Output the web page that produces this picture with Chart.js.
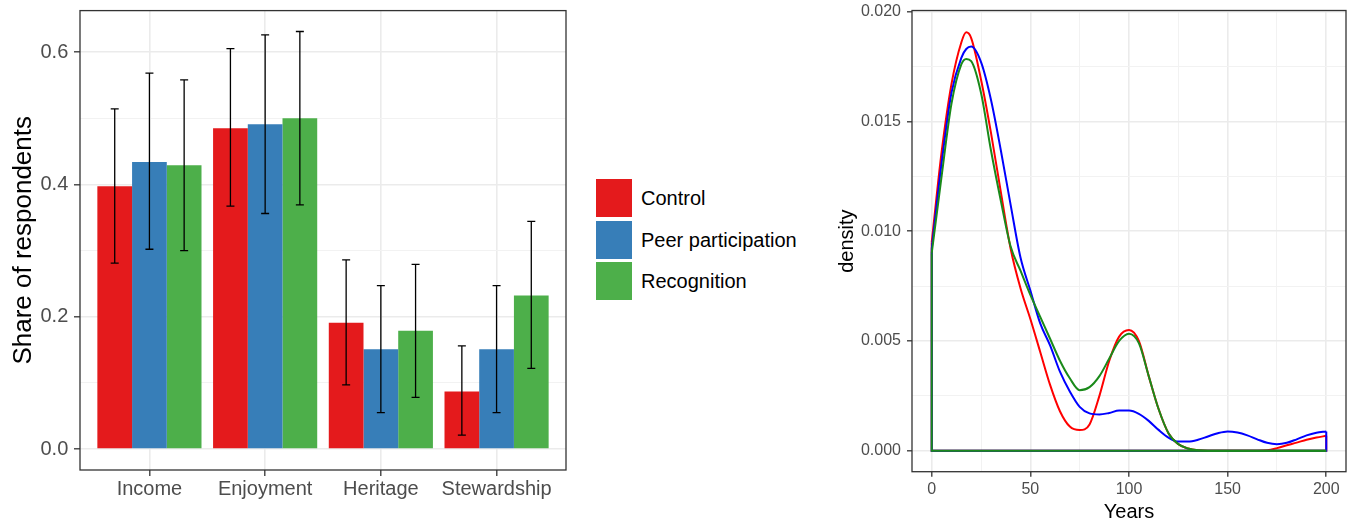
<!DOCTYPE html>
<html>
<head>
<meta charset="utf-8">
<script src="https://cdn.jsdelivr.net/npm/chart.js@4.4.1/dist/chart.umd.min.js"></script>
<style>
  body { margin:0; width:1354px; height:522px; background:#fff; position:relative; overflow:hidden; }
  canvas { position:absolute; top:0; }
  #legend { position:absolute; left:596px; top:0; font-family:'Liberation Sans', Arial, sans-serif; font-size:20px; color:#000; }
  .row { position:absolute; left:0; height:38px; line-height:38px; white-space:nowrap; }
  .key { position:absolute; left:0; top:0; width:36px; height:38px; }
  .lab { position:absolute; left:45px; top:0; }
</style>
</head>
<body>
<canvas id="bars" width="580" height="522" style="left:0"></canvas>
<div id="legend"></div>
<canvas id="dens" width="534" height="522" style="left:820px"></canvas>
<script>
// left panel: share of respondents by motivation
var categories = ['Income', 'Enjoyment', 'Heritage', 'Stewardship'];
var groups = ['Control', 'Peer participation', 'Recognition'];
var control   = [0.397, 0.485, 0.191, 0.087];
var controlLo = [0.281, 0.367, 0.097, 0.021];
var controlHi = [0.514, 0.605, 0.286, 0.156];
var peer      = [0.434, 0.491, 0.151, 0.151];
var peerLo    = [0.302, 0.356, 0.055, 0.055];
var peerHi    = [0.568, 0.626, 0.247, 0.247];
var recog     = [0.429, 0.500, 0.179, 0.232];
var recogLo   = [0.300, 0.369, 0.078, 0.122];
var recogHi   = [0.558, 0.631, 0.279, 0.344];
var barTicks = [0, 0.2, 0.4, 0.6];
var barTickLabels = ['0.0', '0.2', '0.4', '0.6'];
var barMinor = [0.1, 0.3, 0.5];

// right panel: density of years
var years = [0, 5, 10, 15, 17.5, 20, 25, 30, 35, 40, 45, 50, 55, 60, 65, 70, 75, 80, 85, 90, 95, 100,
             105, 110, 115, 120, 125, 130, 135, 140, 145, 150, 155, 160, 165, 170, 175, 180, 185, 190, 195, 200];
var densControl = [0.0095, 0.0136, 0.0167, 0.0186, 0.01906, 0.0188, 0.0169, 0.0145, 0.0118, 0.0092, 0.0074,
                   0.0060, 0.0045, 0.0030, 0.0018, 0.0011, 0.00094, 0.0012, 0.0025, 0.0041, 0.0052, 0.0055,
                   0.0050, 0.0034, 0.0019, 0.0008, 0.0003, 0.0001, 0.00002, 0, 0, 0, 0, 0, 0, 0.00002,
                   0.00012, 0.00025, 0.00037, 0.0005, 0.0006, 0.00068];
var densPeer = [0.0092, 0.0131, 0.0163, 0.0179, 0.0183, 0.01841, 0.0177, 0.0160, 0.0137, 0.0112, 0.0088,
                0.0073, 0.0058, 0.0048, 0.0036, 0.0027, 0.0020, 0.0017, 0.00165, 0.00172, 0.00183, 0.00183,
                0.00168, 0.00136, 0.00095, 0.0006, 0.00042, 0.00042, 0.0005, 0.00065, 0.0008, 0.00088,
                0.00083, 0.0007, 0.00052, 0.00036, 0.0003, 0.00036, 0.00052, 0.0007, 0.00082, 0.00088];
var densRecog = [0.0090, 0.0125, 0.0158, 0.0176, 0.01785, 0.01775, 0.0163, 0.0137, 0.0114, 0.0093, 0.0082,
                 0.0071, 0.0061, 0.0051, 0.0041, 0.0033, 0.00276, 0.0029, 0.0034, 0.0042, 0.0050, 0.00533,
                 0.0049, 0.0034, 0.0019, 0.0008, 0.0003, 0.0001, 0.00002, 0, 0, 0, 0, 0, 0, 0,
                 0, 0, 0, 0, 0, 0];
var yearTicks = [0, 50, 100, 150, 200];
var yearTickLabels = ['0', '50', '100', '150', '200'];
var yearMinor = [25, 75, 125, 175];
var densTicks = [0, 0.005, 0.010, 0.015, 0.020];
var densTickLabels = ['0.000', '0.005', '0.010', '0.015', '0.020'];
var densMinor = [0.0025, 0.0075, 0.0125, 0.0175];

var barColors = ['#E41A1C', '#377EB8', '#4DAF4A'];
var lineColors = ['#FF0000', '#0000FF', '#1A8A1A'];
var FONT = "'Liberation Sans', Arial, Helvetica, sans-serif";
Chart.defaults.font.family = FONT;

// major ticks get labels, minor ticks only a thin grid line
function axisTicks(major, minor, labels) {
  return {
    build: function(s) {
      var t = major.map(function(v){ return {value: v}; })
        .concat(minor.map(function(v){ return {value: v, minor: true}; }));
      t.sort(function(a, b){ return a.value - b.value; });
      s.ticks = t;
    },
    label: function(v) {
      var i = major.indexOf(v);
      return i < 0 ? '' : labels[i];
    },
    grid: function(tickLen) {
      return {
        offset: false,
        color: function(c){ return c.tick && c.tick.minor ? '#F2F2F2' : '#EBEBEB'; },
        lineWidth: function(c){ return c.tick && c.tick.minor ? 1 : 1.6; },
        tickLength: tickLen,
        tickWidth: 1.3,
        tickColor: function(c){ return c.tick && c.tick.minor ? 'rgba(0,0,0,0)' : '#333333'; }
      };
    }
  };
}

var panelBorder = {
  id: 'panelBorder',
  afterDraw: function(chart) {
    var a = chart.chartArea, ctx = chart.ctx;
    ctx.save();
    ctx.strokeStyle = '#333333';
    ctx.lineWidth = 1.3;
    ctx.strokeRect(a.left, a.top, a.right - a.left, a.bottom - a.top);
    ctx.restore();
  }
};

var errorBars = {
  id: 'errorBars',
  afterDatasetsDraw: function(chart) {
    var y = chart.scales.y, ctx = chart.ctx;
    ctx.save();
    ctx.strokeStyle = '#000';
    ctx.lineWidth = 1.3;
    chart.data.datasets.forEach(function(ds, i) {
      chart.getDatasetMeta(i).data.forEach(function(bar, j) {
        var lo = y.getPixelForValue(ds.lo[j]), hi = y.getPixelForValue(ds.hi[j]);
        ctx.beginPath();
        ctx.moveTo(bar.x, lo); ctx.lineTo(bar.x, hi);
        ctx.moveTo(bar.x - 4, lo); ctx.lineTo(bar.x + 4, lo);
        ctx.moveTo(bar.x - 4, hi); ctx.lineTo(bar.x + 4, hi);
        ctx.stroke();
      });
    });
    ctx.restore();
  }
};

// ---- bars ----
var bx = axisTicks(categories.map(function(c, i){ return i + 1; }), [], categories);
var by = axisTicks(barTicks, barMinor, barTickLabels);
var barSets = [[control, controlLo, controlHi], [peer, peerLo, peerHi], [recog, recogLo, recogHi]];

new Chart(document.getElementById('bars'), {
  type: 'bar',
  data: {
    datasets: barSets.map(function(s, i) {
      return {
        label: groups[i],
        data: s[0].map(function(v, j){ return {x: j + 1, y: v}; }),
        lo: s[1], hi: s[2],
        backgroundColor: barColors[i],
        borderWidth: 0,
        categoryPercentage: 0.9,
        barPercentage: 1.0
      };
    })
  },
  options: {
    responsive: false, animation: false, devicePixelRatio: 1, events: [],
    layout: { padding: { left: 0, right: 14, top: 10.6, bottom: 0 } },
    plugins: { legend: { display: false }, tooltip: { enabled: false } },
    scales: {
      x: {
        type: 'linear', min: 0.4, max: 4.6, offset: false, bounds: 'data',
        afterBuildTicks: bx.build,
        afterFit: function(s){ s.height = 52; s.paddingLeft = 0; s.paddingRight = 0; },
        ticks: { callback: bx.label, color: '#4D4D4D', font: { size: 20 }, padding: 1, autoSkip: false, maxRotation: 0 },
        grid: bx.grid(6),
        border: { display: false }
      },
      y: {
        min: -0.0316, max: 0.6626, bounds: 'data',
        afterBuildTicks: by.build,
        afterFit: function(s){ s.width = 80; s.paddingTop = 0; s.paddingBottom = 0; },
        ticks: { callback: by.label, color: '#4D4D4D', font: { size: 20 }, padding: 5.7, autoSkip: false },
        grid: by.grid(6),
        border: { display: false },
        title: { display: true, text: 'Share of respondents', color: '#000', font: { size: 26 }, padding: { top: 8.4, bottom: 0 } }
      }
    }
  },
  plugins: [errorBars, panelBorder]
});

// ---- legend ----
var legend = document.getElementById('legend');
groups.forEach(function(g, i) {
  var row = document.createElement('div');
  row.className = 'row';
  row.style.top = (179.3 + i * 41.5) + 'px';
  row.innerHTML = '<div class="key" style="background:' + barColors[i] + '"></div><div class="lab">' + g + '</div>';
  legend.appendChild(row);
});

// ---- density ----
var dx = axisTicks(yearTicks, yearMinor, yearTickLabels);
var dy = axisTicks(densTicks, densMinor, densTickLabels);
var densSeries = [densControl, densPeer, densRecog];
var densSets = [];
// reverse order so the first group ends up underneath
for (var k = densSeries.length - 1; k >= 0; k--) {
  var vals = densSeries[k], last = years.length - 1;
  densSets.push({
    label: groups[k],
    data: years.map(function(x, j){ return {x: x, y: this[j]}; }, vals),
    borderColor: lineColors[k], borderWidth: 2, pointRadius: 0, fill: false,
    cubicInterpolationMode: 'monotone'
  });
  densSets.push({
    label: groups[k] + ' edge',
    data: [{x: years[0], y: vals[0]}, {x: years[0], y: 0}, {x: years[last], y: 0}, {x: years[last], y: vals[last]}],
    borderColor: lineColors[k], borderWidth: 2, pointRadius: 0, fill: false, tension: 0
  });
}

new Chart(document.getElementById('dens'), {
  type: 'line',
  data: { datasets: densSets },
  options: {
    responsive: false, animation: false, devicePixelRatio: 1, events: [],
    layout: { padding: { left: 0, right: 8, top: 10.5, bottom: 0 } },
    plugins: { legend: { display: false }, tooltip: { enabled: false } },
    scales: {
      x: {
        type: 'linear', min: -10, max: 210, bounds: 'data',
        afterBuildTicks: dx.build,
        afterFit: function(s){ s.height = 50.3; s.paddingLeft = 0; s.paddingRight = 0; },
        ticks: { callback: dx.label, color: '#4D4D4D', font: { size: 16 }, padding: 3, autoSkip: false, maxRotation: 0 },
        grid: dx.grid(5),
        border: { display: false },
        title: { display: true, text: 'Years', color: '#000', font: { size: 20, lineHeight: 1 }, padding: 0 }
      },
      y: {
        min: -0.000955, max: 0.020055, bounds: 'data',
        afterBuildTicks: dy.build,
        afterFit: function(s){ s.width = 92; s.paddingTop = 0; s.paddingBottom = 0; },
        ticks: { callback: dy.label, color: '#4D4D4D', font: { size: 16 }, padding: 6, autoSkip: false },
        grid: dy.grid(5),
        border: { display: false },
        title: { display: true, text: 'density', color: '#000', font: { size: 20 }, padding: { top: 15, bottom: 0 } }
      }
    }
  },
  plugins: [panelBorder]
});
</script>
</body>
</html>
